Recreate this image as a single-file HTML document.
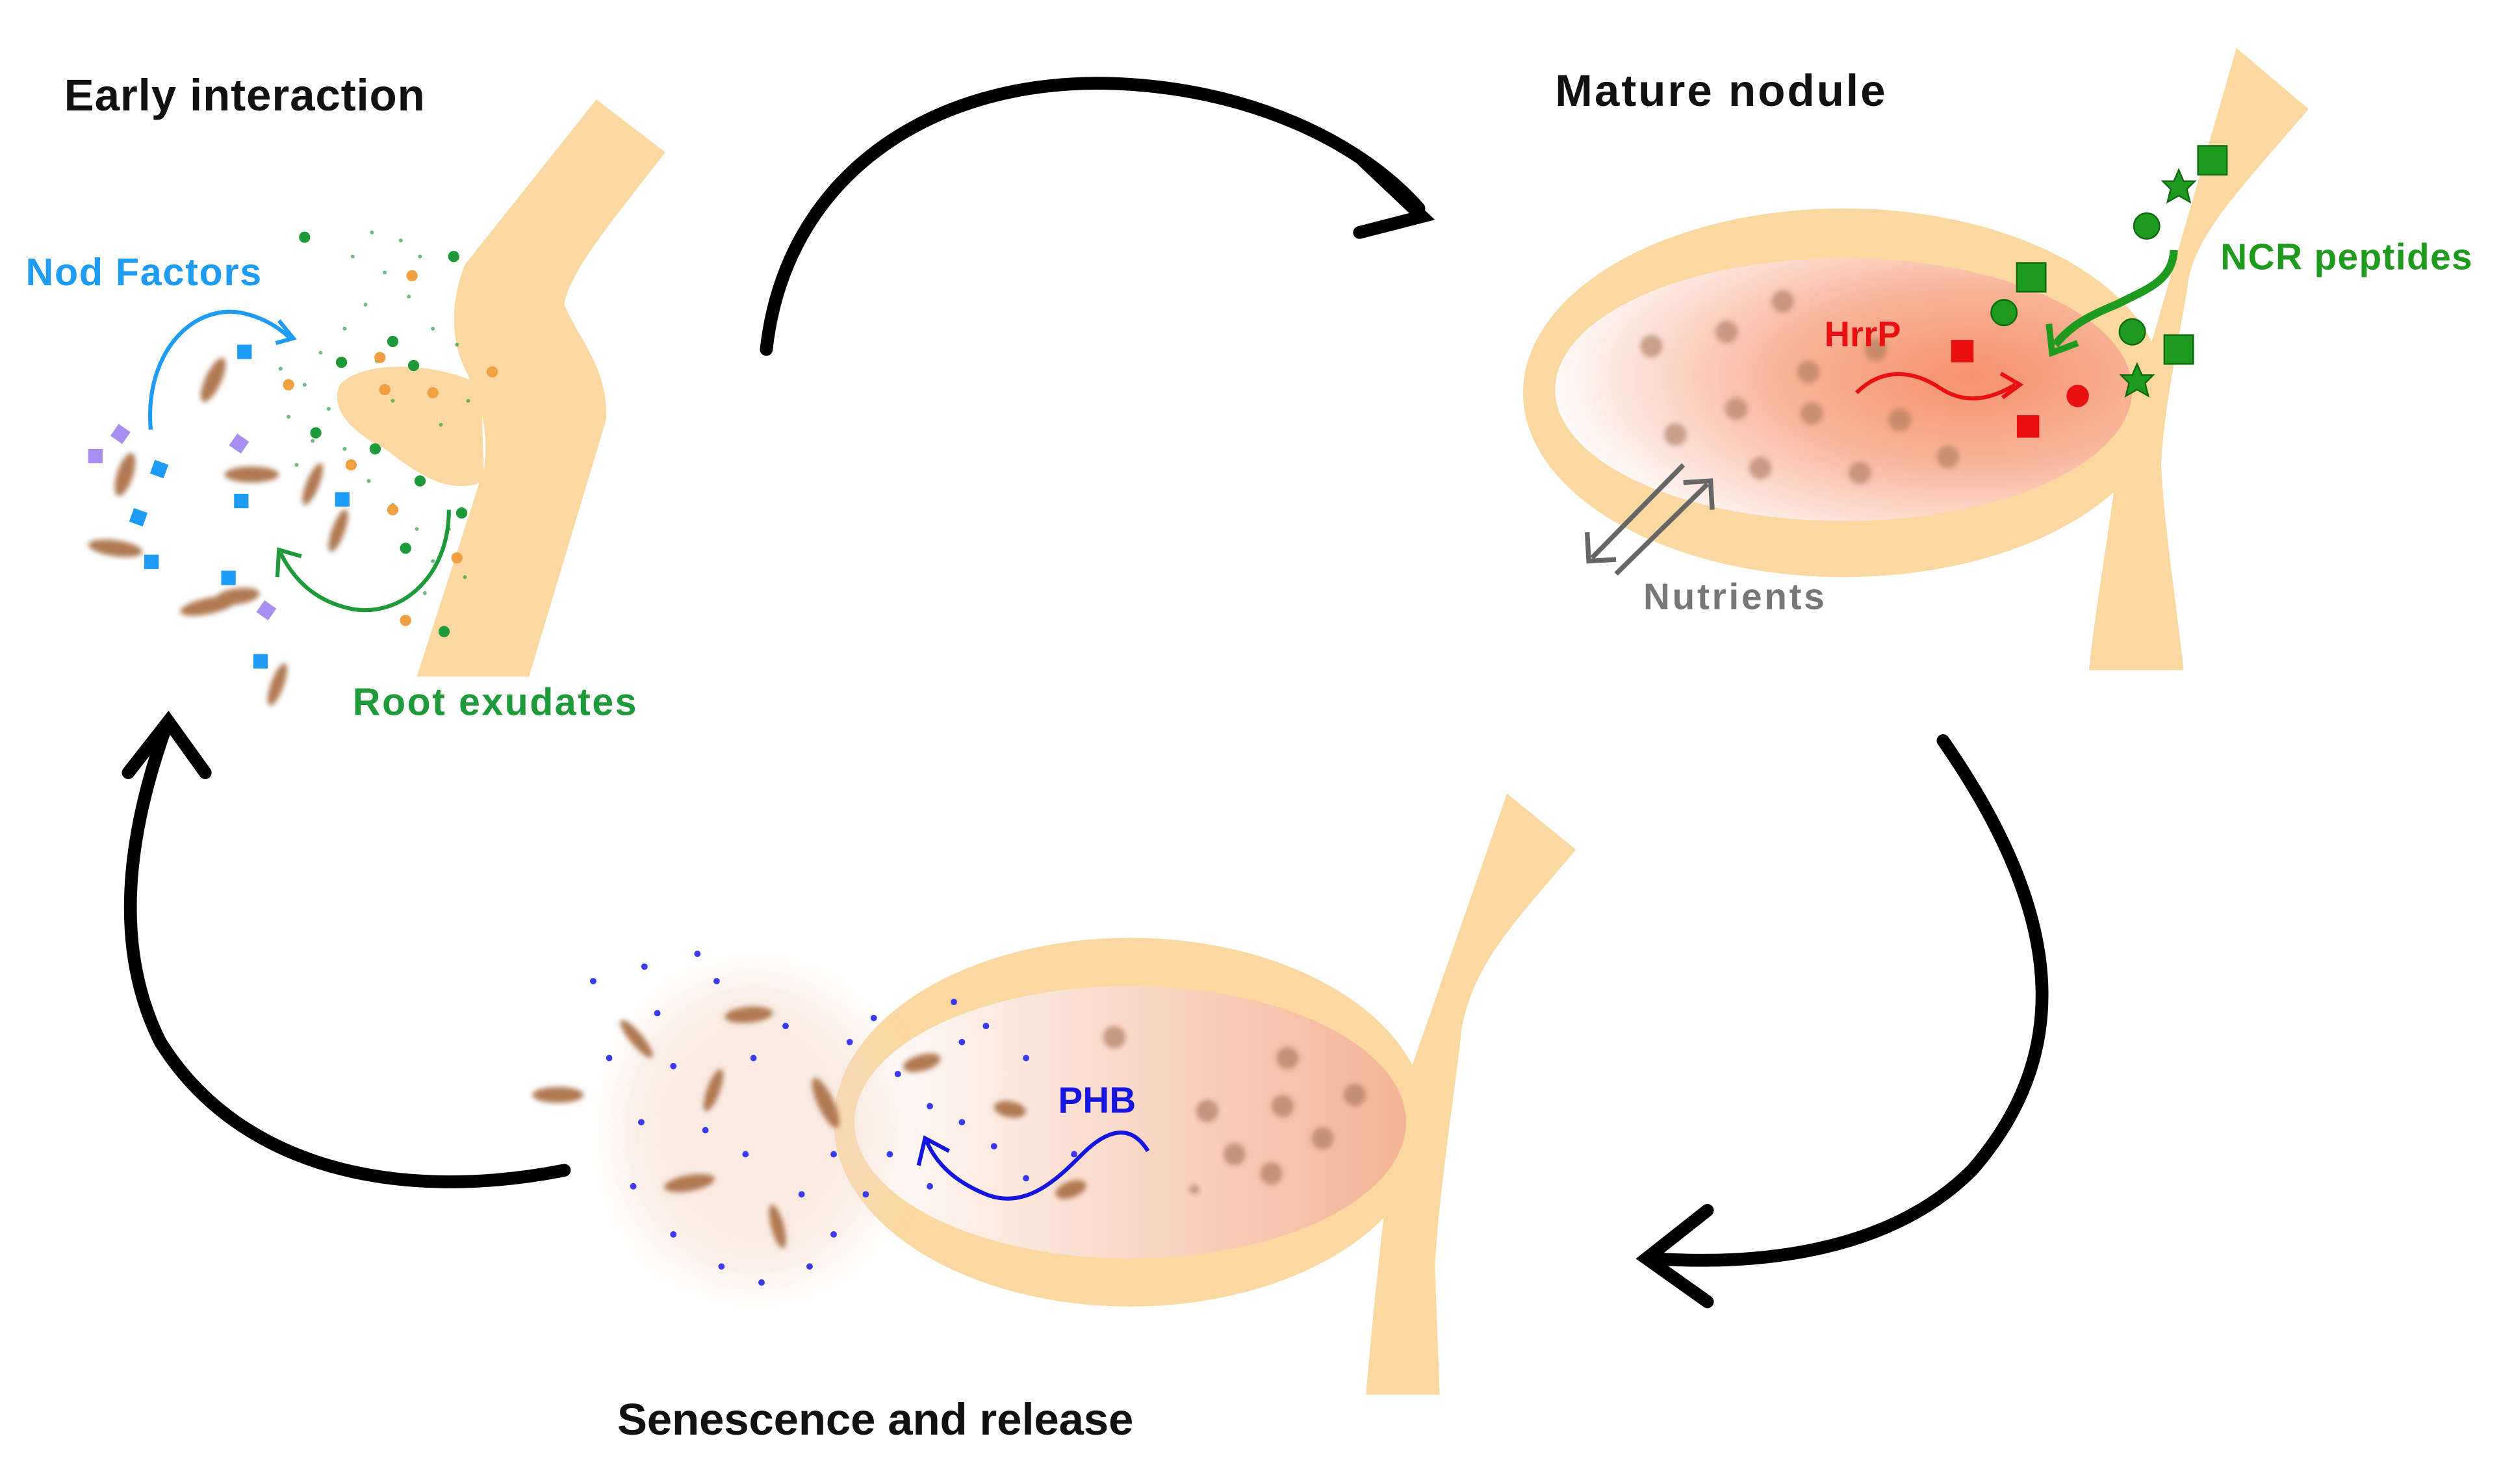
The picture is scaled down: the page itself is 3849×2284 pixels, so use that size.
<!DOCTYPE html>
<html><head><meta charset="utf-8"><style>
html,body{margin:0;padding:0;background:#fff;}
svg{display:block;}
text{font-family:"Liberation Sans",Arial,sans-serif;font-weight:bold;}
</style></head><body>
<svg width="3849" height="2284" viewBox="0 0 1560 925.7" preserveAspectRatio="none" xmlns="http://www.w3.org/2000/svg">
<defs>
<radialGradient id="g1" cx="0.72" cy="0.45" r="0.75">
<stop offset="0" stop-color="#F6906E"/><stop offset="0.45" stop-color="#F8B59A"/><stop offset="1" stop-color="#FFFFFF"/>
</radialGradient>
<linearGradient id="g2" x1="0" y1="0" x2="1" y2="0">
<stop offset="0" stop-color="#FFFFFF"/><stop offset="0.35" stop-color="#FBE3D6"/><stop offset="1" stop-color="#F3B496"/>
</linearGradient>
<filter id="bl"><feGaussianBlur stdDeviation="1.6"/></filter>
<filter id="bl2"><feGaussianBlur stdDeviation="12"/></filter>
</defs>
<rect width="1560" height="926" fill="#fff"/>

<text x="40" y="69" font-size="28" fill="#111" textLength="225">Early interaction</text>
<text x="970" y="66" font-size="28" fill="#111" textLength="206">Mature nodule</text>
<text x="385" y="895" font-size="28" fill="#111" textLength="322">Senescence and release</text>

<g fill="none" stroke="#000" stroke-width="8" stroke-linecap="round">
<path d="M478,218 C490,110 580,50 690,52 C780,54 850,90 885,130"/>
<path d="M850,100 L887,135 L848,145"/>
<path d="M1212,462 C1280,560 1300,650 1230,730 C1180,780 1100,790 1030,785"/>
<path d="M1065,755 L1027,785 L1065,812"/>
<path d="M352,730 C250,750 150,730 100,650 C70,590 80,520 103,455"/>
<path d="M80,482 L105,450 L128,482"/>
</g>

<g fill="#FAD8A0">
<path d="M372,62 L415,95 C380,140 355,170 352,190 C360,210 380,230 378,262 L330,422 L260,422 L302,292 C305,270 300,250 290,230 C280,210 282,185 290,165 Z"/>
<path d="M300,240 C270,225 225,225 212,240 C205,255 220,270 240,280 C260,295 280,310 302,300 Z"/>
</g>
<g>
<g fill="#2E9E4A" opacity="0.7">
<circle cx="232" cy="145" r="1.2"/><circle cx="250" cy="150" r="1.2"/><circle cx="262" cy="160" r="1.2"/><circle cx="240" cy="170" r="1.2"/><circle cx="255" cy="185" r="1.2"/><circle cx="228" cy="190" r="1.2"/><circle cx="215" cy="205" r="1.2"/><circle cx="200" cy="220" r="1.2"/><circle cx="190" cy="240" r="1.2"/><circle cx="205" cy="255" r="1.2"/><circle cx="180" cy="260" r="1.2"/><circle cx="195" cy="275" r="1.2"/><circle cx="215" cy="280" r="1.2"/><circle cx="230" cy="300" r="1.2"/><circle cx="245" cy="315" r="1.2"/><circle cx="260" cy="330" r="1.2"/><circle cx="270" cy="350" r="1.2"/><circle cx="265" cy="370" r="1.2"/><circle cx="280" cy="330" r="1.2"/><circle cx="290" cy="360" r="1.2"/><circle cx="270" cy="205" r="1.2"/><circle cx="285" cy="215" r="1.2"/><circle cx="235" cy="225" r="1.2"/><circle cx="175" cy="230" r="1.2"/><circle cx="185" cy="290" r="1.2"/><circle cx="220" cy="160" r="1.2"/><circle cx="245" cy="250" r="1.2"/><circle cx="275" cy="265" r="1.2"/><circle cx="292" cy="250" r="1.2"/>
</g>
<g fill="#1E9A3A">
<circle cx="190" cy="148" r="3.5"/><circle cx="283" cy="160" r="3.5"/><circle cx="245" cy="213" r="3.5"/><circle cx="213" cy="226" r="3.5"/><circle cx="258" cy="228" r="3.5"/><circle cx="197" cy="270" r="3.5"/><circle cx="234" cy="280" r="3.5"/><circle cx="262" cy="300" r="3.5"/><circle cx="288" cy="320" r="3.5"/><circle cx="253" cy="342" r="3.5"/><circle cx="277" cy="394" r="3.5"/>
</g>
<g fill="#F0A040">
<circle cx="257" cy="172" r="3.5"/><circle cx="237" cy="223" r="3.5"/><circle cx="180" cy="240" r="3.5"/><circle cx="240" cy="243" r="3.5"/><circle cx="270" cy="245" r="3.5"/><circle cx="307" cy="232" r="3.5"/><circle cx="219" cy="290" r="3.5"/><circle cx="245" cy="318" r="3.5"/><circle cx="285" cy="348" r="3.5"/><circle cx="253" cy="387" r="3.5"/>
</g>
</g>
<g fill="#B07A52" filter="url(#bl)">
<ellipse cx="133" cy="237" rx="5" ry="15" transform="rotate(25 133 237)"/>
<ellipse cx="78" cy="296" rx="5" ry="14" transform="rotate(18 78 296)"/>
<ellipse cx="157" cy="296" rx="17" ry="5"/>
<ellipse cx="195" cy="302" rx="4" ry="14" transform="rotate(22 195 302)"/>
<ellipse cx="211" cy="331" rx="4" ry="14" transform="rotate(20 211 331)"/>
<ellipse cx="72" cy="342" rx="17" ry="5" transform="rotate(8 72 342)"/>
<ellipse cx="130" cy="378" rx="18" ry="5" transform="rotate(-12 130 378)"/>
<ellipse cx="148" cy="372" rx="14" ry="5" transform="rotate(-8 148 372)"/>
<ellipse cx="173" cy="427" rx="4" ry="14" transform="rotate(20 173 427)"/>
</g>
<g fill="#1E9BF5">
<rect x="148" y="215" width="9" height="9"/><rect x="95" y="288" width="9" height="9" transform="rotate(20 99 292)"/><rect x="146" y="308" width="9" height="9"/><rect x="209" y="307" width="9" height="9"/><rect x="82" y="318" width="9" height="9" transform="rotate(20 86 322)"/><rect x="90" y="346" width="9" height="9"/><rect x="138" y="356" width="9" height="9"/><rect x="158" y="408" width="9" height="9"/>
</g>
<g fill="#A98EF2">
<rect x="71" y="266" width="9" height="9" transform="rotate(35 75 270)"/><rect x="55" y="280" width="9" height="9"/><rect x="145" y="272" width="9" height="9" transform="rotate(35 149 276)"/><rect x="162" y="376" width="9" height="9" transform="rotate(35 166 380)"/>
</g>
<path d="M94,268 C90,220 120,190 150,195 C165,198 175,205 182,212" fill="none" stroke="#1E9BF5" stroke-width="2.5"/>
<path d="M174,200 L183,211 L172,214" fill="none" stroke="#1E9BF5" stroke-width="2.5"/>
<path d="M280,318 C280,360 250,385 220,380 C200,376 185,365 175,345" fill="none" stroke="#1E9A3A" stroke-width="2.5"/>
<path d="M173,360 L174,343 L188,347" fill="none" stroke="#1E9A3A" stroke-width="2.5"/>
<text x="16" y="178" font-size="24" fill="#1E9BF5" textLength="147">Nod Factors</text>
<text x="220" y="446" font-size="24" fill="#1E9A3A" textLength="177">Root exudates</text>

<g fill="#FAD8A0">
<path d="M1395,30 L1440,68 C1400,115 1370,145 1365,175 C1360,210 1350,250 1348,290 C1350,330 1358,380 1362,418 L1303,418 C1308,370 1318,320 1320,290 Z"/>
<ellipse cx="1150" cy="245" rx="200" ry="115"/>
</g>
<ellipse cx="1150" cy="243" rx="180" ry="82" fill="url(#g1)"/>
<g fill="#A8785A" opacity="0.6" filter="url(#bl)">
<circle cx="1112" cy="188" r="7"/><circle cx="1030" cy="216" r="7"/><circle cx="1077" cy="207" r="7"/><circle cx="1128" cy="232" r="7"/><circle cx="1083" cy="255" r="7"/><circle cx="1130" cy="258" r="7"/><circle cx="1185" cy="262" r="7"/><circle cx="1045" cy="271" r="7"/><circle cx="1098" cy="292" r="7"/><circle cx="1160" cy="295" r="7"/><circle cx="1215" cy="285" r="7"/><circle cx="1170" cy="218" r="7"/>
</g>
<g fill="#E81010">
<rect x="1217" y="212" width="14" height="14"/><rect x="1258" y="259" width="14" height="14"/><circle cx="1296" cy="247" r="7"/>
</g>
<path d="M1158,245 C1175,228 1195,232 1210,242 C1225,252 1240,250 1257,240" fill="none" stroke="#E81010" stroke-width="2.5"/>
<path d="M1248,233 L1260,240 L1249,248" fill="none" stroke="#E81010" stroke-width="2.5"/>
<g fill="#1E9A1E" stroke="#0F6A0F" stroke-width="1">
<rect x="1371" y="91" width="18" height="18"/><rect x="1258" y="164" width="18" height="18"/><rect x="1350" y="209" width="18" height="18"/>
<circle cx="1339" cy="141" r="8"/><circle cx="1250" cy="195" r="8"/><circle cx="1330" cy="207" r="8"/>
<path d="M1359,106 l3,7 7,0 -5,5 2,8 -7,-4 -7,4 2,-8 -5,-5 7,0z"/>
<path d="M1333,227 l3,7 7,0 -5,5 2,8 -7,-4 -7,4 2,-8 -5,-5 7,0z"/>
</g>
<path d="M1356,156 C1355,175 1340,180 1320,190 C1300,198 1290,205 1282,215" fill="none" stroke="#1E9A1E" stroke-width="5"/>
<path d="M1278,202 L1280,220 L1296,214" fill="none" stroke="#1E9A1E" stroke-width="4"/>
<g stroke="#666" stroke-width="3" fill="none">
<path d="M1050,290 L993,348"/><path d="M990,332 L991,350 L1008,349"/>
<path d="M1008,358 L1065,302"/><path d="M1050,301 L1067,300 L1068,318"/>
</g>
<text x="1138" y="216" font-size="22" fill="#E81010">HrrP</text>
<text x="1385" y="168" font-size="23" fill="#1E9A1E" textLength="157">NCR peptides</text>
<text x="1025" y="380" font-size="23" fill="#777" textLength="113">Nutrients</text>

<g fill="#FAD8A0">
<path d="M940,495 L983,530 C945,575 920,600 912,640 C905,700 898,740 895,790 L898,870 L852,870 C858,800 865,740 872,690 Z"/>
<ellipse cx="705" cy="700" rx="185" ry="115"/>
</g>
<ellipse cx="705" cy="700" rx="172" ry="85" fill="url(#g2)"/>
<ellipse cx="470" cy="705" rx="85" ry="95" fill="#F6D9C6" opacity="0.5" filter="url(#bl2)"/>
<g fill="#A8785A" opacity="0.65" filter="url(#bl)">
<circle cx="695" cy="647" r="7"/><circle cx="803" cy="660" r="7"/><circle cx="845" cy="683" r="7"/><circle cx="800" cy="690" r="7"/><circle cx="753" cy="693" r="7"/><circle cx="825" cy="710" r="7"/><circle cx="770" cy="720" r="7"/><circle cx="793" cy="732" r="7"/><circle cx="745" cy="742" r="3"/>
</g>
<g fill="#B07A52" filter="url(#bl)">
<ellipse cx="397" cy="648" rx="4" ry="15" transform="rotate(-40 397 648)"/>
<ellipse cx="467" cy="633" rx="15" ry="5" transform="rotate(-5 467 633)"/>
<ellipse cx="348" cy="683" rx="16" ry="5"/>
<ellipse cx="445" cy="680" rx="4" ry="14" transform="rotate(20 445 680)"/>
<ellipse cx="515" cy="688" rx="5" ry="17" transform="rotate(-25 515 688)"/>
<ellipse cx="575" cy="663" rx="12" ry="5" transform="rotate(-15 575 663)"/>
<ellipse cx="630" cy="692" rx="10" ry="5" transform="rotate(10 630 692)"/>
<ellipse cx="430" cy="738" rx="16" ry="5" transform="rotate(-10 430 738)"/>
<ellipse cx="485" cy="765" rx="4" ry="14" transform="rotate(-15 485 765)"/>
<ellipse cx="668" cy="742" rx="10" ry="5" transform="rotate(-20 668 742)"/>
</g>
<g fill="#3A3AF0">
<circle cx="370" cy="612" r="2"/><circle cx="402" cy="603" r="2"/><circle cx="435" cy="595" r="2"/><circle cx="447" cy="612" r="2"/><circle cx="410" cy="632" r="2"/><circle cx="380" cy="660" r="2"/><circle cx="420" cy="665" r="2"/><circle cx="470" cy="660" r="2"/><circle cx="490" cy="640" r="2"/><circle cx="530" cy="650" r="2"/><circle cx="545" cy="635" r="2"/><circle cx="560" cy="670" r="2"/><circle cx="600" cy="650" r="2"/><circle cx="615" cy="640" r="2"/><circle cx="640" cy="660" r="2"/><circle cx="620" cy="715" r="2"/><circle cx="640" cy="735" r="2"/><circle cx="600" cy="700" r="2"/><circle cx="580" cy="690" r="2"/><circle cx="555" cy="720" r="2"/><circle cx="540" cy="745" r="2"/><circle cx="520" cy="720" r="2"/><circle cx="500" cy="745" r="2"/><circle cx="465" cy="720" r="2"/><circle cx="440" cy="705" r="2"/><circle cx="400" cy="700" r="2"/><circle cx="395" cy="740" r="2"/><circle cx="420" cy="770" r="2"/><circle cx="450" cy="790" r="2"/><circle cx="475" cy="800" r="2"/><circle cx="505" cy="790" r="2"/><circle cx="520" cy="770" r="2"/><circle cx="580" cy="740" r="2"/><circle cx="670" cy="720" r="2"/><circle cx="595" cy="625" r="2"/>
</g>
<path d="M716,718 C705,700 690,705 675,720 C660,735 640,755 615,745 C598,738 585,728 578,712" fill="none" stroke="#1515E0" stroke-width="2.5"/>
<path d="M573,727 L577,710 L592,718" fill="none" stroke="#1515E0" stroke-width="2.5"/>
<text x="660" y="694" font-size="23" fill="#1515E0">PHB</text>
</svg>
</body></html>
